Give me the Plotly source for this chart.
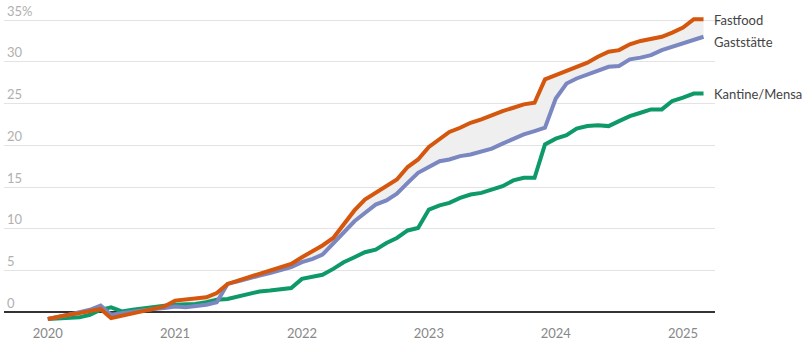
import plotly.graph_objects as go
import pandas as pd

months = pd.date_range("2020-01-01", "2025-03-01", freq="MS")

fastfood = [-0.8, -0.5, -0.3, -0.1, 0.1, 0.4, -0.7, -0.4, -0.1, 0.2, 0.5, 0.7,
            1.4, 1.5, 1.6, 1.8, 2.3, 3.4, 3.8, 4.2, 4.6, 5.0, 5.4, 5.8,
            6.6, 7.3, 8.0, 8.9, 10.5, 12.2, 13.5, 14.3, 15.1, 15.9, 17.4, 18.3,
            19.8, 20.7, 21.6, 22.1, 22.7, 23.1, 23.6, 24.1, 24.5, 24.9, 25.1, 27.9,
            28.4, 28.9, 29.4, 29.9, 30.6, 31.2, 31.4, 32.1, 32.5, 32.8, 33.0, 33.5,
            34.1, 35.1, 35.1]

gaststaette = [-0.8, -0.6, -0.3, 0.0, 0.3, 0.8, -0.3, -0.1, 0.1, 0.3, 0.4, 0.5,
               0.7, 0.6, 0.7, 0.9, 1.2, 3.4, 3.7, 4.1, 4.4, 4.7, 5.0, 5.4,
               6.0, 6.4, 6.9, 8.3, 9.6, 10.9, 11.9, 12.9, 13.4, 14.2, 15.5, 16.7,
               17.4, 18.1, 18.3, 18.7, 18.9, 19.3, 19.6, 20.2, 20.8, 21.3, 21.7, 22.1,
               25.6, 27.4, 28.0, 28.5, 29.0, 29.4, 29.5, 30.3, 30.5, 30.8, 31.4, 31.8,
               32.2, 32.6, 33.0]

kantine = [-0.8, -0.7, -0.6, -0.6, -0.3, 0.3, 0.6, 0.1, 0.3, 0.5, 0.6, 0.8,
           0.9, 0.9, 1.0, 1.2, 1.5, 1.6, 1.9, 2.2, 2.5, 2.6, 2.8, 2.9,
           4.0, 4.3, 4.5, 5.2, 6.0, 6.6, 7.2, 7.5, 8.3, 8.9, 9.8, 10.1,
           12.3, 12.8, 13.1, 13.7, 14.1, 14.3, 14.7, 15.1, 15.8, 16.1, 16.1, 20.1,
           20.8, 21.2, 22.0, 22.3, 22.4, 22.3, 22.9, 23.5, 23.9, 24.3, 24.3, 25.3,
           25.7, 26.2, 26.2]

series_names = ["Fastfood", "Gaststätte", "Kantine/Mensa"]
series_colors = ["#d5560d", "#7b87c0", "#0e9a68"]
label_y = [35.0, 32.4, 26.1]

y_tickvals = [0, 5, 10, 15, 20, 25, 30, 35]
y_ticktext = ["0", "5", "10", "15", "20", "25", "30", "35%"]
x_tickvals = ["2020-01-01", "2021-01-01", "2022-01-01", "2023-01-01", "2024-01-01", "2025-01-01"]
x_ticktext = ["2020", "2021", "2022", "2023", "2024", "2025"]

fig = go.Figure()

# band between Fastfood and Gaststätte
fig.add_trace(go.Scatter(x=months, y=gaststaette, mode="lines", line=dict(width=0),
                         hoverinfo="skip", showlegend=False))
fig.add_trace(go.Scatter(x=months, y=fastfood, mode="lines", line=dict(width=0),
                         fill="tonexty", fillcolor="#efefef",
                         hoverinfo="skip", showlegend=False))

data = [fastfood, gaststaette, kantine]
for name, vals, col in zip(series_names[::-1], data[::-1], series_colors[::-1]):
    fig.add_trace(go.Scatter(x=months, y=vals, mode="lines", name=name,
                             line=dict(color=col, width=4), showlegend=False))

for name, ly, col in zip(series_names, label_y, series_colors):
    fig.add_annotation(x=months[-1], y=ly, xref="x", yref="y", text=name,
                       showarrow=False, xanchor="left", yanchor="middle", xshift=9,
                       borderpad=0,
                       font=dict(size=13, color="#444444", family="Lato"))

fig.update_layout(
    width=805, height=342,
    margin=dict(l=4, r=90, t=0, b=18),
    plot_bgcolor="white", paper_bgcolor="white",
    font=dict(family="Lato", size=13),
)
fig.update_xaxes(
    type="date",
    range=["2019-08-28", "2025-04-03"],
    tickvals=x_tickvals, ticktext=x_ticktext,
    showgrid=False, showline=False, zeroline=False, ticks="",
    tickfont=dict(size=13, color="#888888"),
)
fig.update_yaxes(
    range=[-1.4, 37.4],
    tickvals=y_tickvals, ticktext=y_ticktext,
    ticklabelposition="inside top",
    showgrid=True, gridcolor="#e3e3e3", gridwidth=1,
    zeroline=True, zerolinecolor="#333333", zerolinewidth=1.5,
    showline=False, ticks="",
    tickfont=dict(size=13, color="#b0b0b0"),
)

fig.write_html("out.html")
